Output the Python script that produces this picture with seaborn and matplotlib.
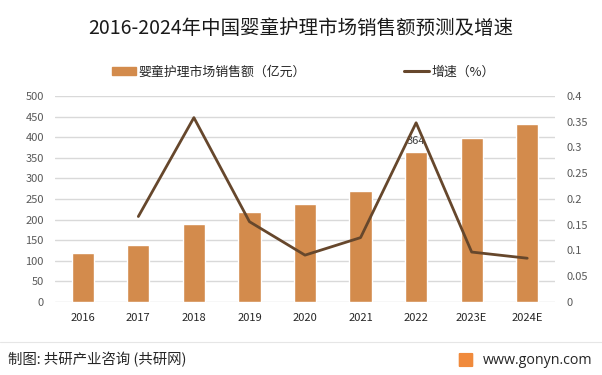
import numpy as np
import pandas as pd
import matplotlib
matplotlib.use("Agg")
import matplotlib.pyplot as plt
import matplotlib.patches as mpatches
from matplotlib.lines import Line2D
import seaborn as sns

# ── 数据 ──
years = ["2016", "2017", "2018", "2019", "2020", "2021", "2022", "2023E", "2024E"]
sales = [119, 138, 189, 218, 238, 269, 364, 399, 432]          # 亿元
growth = [np.nan, 0.166, 0.358, 0.156, 0.091, 0.125, 0.348, 0.097, 0.085]

bar_label = "婴童护理市场销售额（亿元）"
line_label = "增速（%）"
title = "2016-2024年中国婴童护理市场销售额预测及增速"

df = pd.DataFrame({"year": years, "sales": sales, "growth": growth})
df["pos"] = np.arange(len(df))

# ── 样式 ──
sns.set_theme(style="white")
plt.rcParams["font.family"] = ["Noto Sans CJK SC", "DejaVu Sans"]

bar_color = "#D38B4C"
line_color = "#66472C"
grid_color = "#D9D9D9"
tick_color = "#595959"

fig = plt.figure(figsize=(6.02, 3.75), dpi=100)
ax = fig.add_axes([55 / 602, 1 - 302 / 375, 500 / 602, 206 / 375])

sns.barplot(data=df, x="year", y="sales", order=years, color=bar_color,
            width=0.4, saturation=1, ax=ax, zorder=2)
ax.set_ylim(0, 500)
ax.set_yticks(range(0, 501, 50))
ax.set_xlim(-0.5, len(years) - 0.5)
ax.yaxis.grid(True, color=grid_color, linewidth=1)
ax.set_axisbelow(True)
for s in ax.spines.values():
    s.set_visible(False)
ax.set_xlabel("")
ax.set_ylabel("")
ax.tick_params(axis="y", length=0, labelsize=8, labelcolor=tick_color, pad=8)
ax.tick_params(axis="x", length=0, labelsize=8, labelcolor="#262626", pad=8)

# 只有2022有数据标签
i22 = years.index("2022")
ax.annotate(str(sales[i22]), xy=(i22, sales[i22]), xytext=(0, 4),
            textcoords="offset points", ha="center", va="bottom",
            fontsize=8, color="#404040")

ax2 = ax.twinx()
sns.lineplot(data=df, x="pos", y="growth", color=line_color, linewidth=2,
             ax=ax2, legend=False)
ax2.set_ylim(0, 0.4)
ax2.set_yticks(np.arange(0, 0.401, 0.05))
ax2.set_yticklabels([f"{v:g}" for v in np.round(np.arange(0, 0.401, 0.05), 2)])
ax2.set_xlim(-0.5, len(years) - 0.5)
for s in ax2.spines.values():
    s.set_visible(False)
ax2.set_ylabel("")
ax2.set_xlabel("")
ax2.grid(False)
ax2.tick_params(axis="y", length=0, labelsize=8, labelcolor=tick_color, pad=8)

# ── 标题 & 图例 ──
fig.text(301 / 602, 1 - 28 / 375, title, ha="center", va="center",
         fontsize=14, color="#1a1a1a")

handles = [mpatches.Patch(color=bar_color),
           Line2D([0], [0], color=line_color, linewidth=2.2)]
fig.legend(handles, [bar_label, line_label], loc="center left",
           bbox_to_anchor=(100 / 602, 1 - 72 / 375), ncol=2, frameon=False,
           fontsize=9.3, handlelength=1.9, handleheight=0.5, handletextpad=0.2,
           columnspacing=7.6, labelcolor="#262626")

# ── 页脚 ──
fig.add_artist(Line2D([0, 1], [1 - 342 / 375] * 2, color="#E6E6E6",
                      linewidth=0.8, transform=fig.transFigure))
fig.text(8 / 602, 1 - 360 / 375, "制图: 共研产业咨询 (共研网)", ha="left",
         va="center", fontsize=10.4, color="#262626")
fig.add_artist(mpatches.FancyBboxPatch((460 / 602, 1 - 366 / 375), 12 / 602, 12 / 375,
                                       boxstyle="round,pad=0.001", color="#F08A3C",
                                       transform=fig.transFigure))
fig.text(483 / 602, 1 - 360 / 375, "www.gonyn.com", ha="left", va="center",
         fontsize=10.3, color="#262626", family=["Open Sans", "DejaVu Sans"])

fig.savefig("out.png", dpi=100)
plt.close(fig)
